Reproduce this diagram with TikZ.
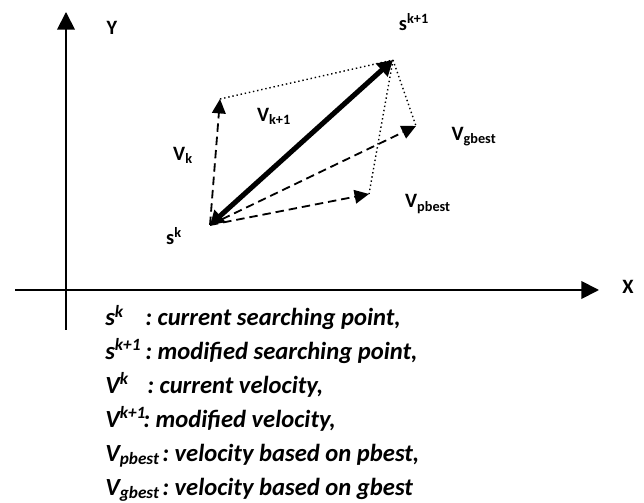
\documentclass[tikz,border=0pt]{standalone}
\usepackage{fontspec}
\setmainfont{Carlito}
\usetikzlibrary{arrows.meta}

\begin{document}
\begin{tikzpicture}[x=0.025cm, y=0.025cm,
  axis/.style={line width=1.3pt, -{Triangle[length=4.4mm, width=4.4mm]}},
  vec/.style={line width=1.3pt, dash pattern=on 6pt off 3.5pt, -{Triangle[length=3.6mm, width=3.4mm]}},
  res/.style={line width=3.6pt, {Triangle[length=3.4mm, width=4mm]}-{Triangle[length=3.8mm, width=4.2mm]}},
  aux/.style={line width=1pt, dotted},
  lbl/.style={font=\fontsize{14.5}{16}\selectfont\bfseries, inner sep=0pt},
  leg/.style={font=\fontsize{17.5}{19}\selectfont\bfseries\itshape, inner sep=0pt, anchor=base west}]
\useasboundingbox (0,0) rectangle (644,-503);

% axes
\coordinate (xstart) at (15,-290);
\coordinate (xend)   at (599,-290);
\coordinate (ystart) at (66,-330);
\coordinate (yend)   at (66,-12);
\draw[axis] (xstart) -- (xend);
\draw[axis] (ystart) -- (yend);
\node[lbl] (xlab) at (628,-287) {X};
\node[lbl] (ylab) at (112,-28) {Y};

% points and velocity vectors
\coordinate (sk)  at (210,-225);
\coordinate (sk1) at (393,-60);
\coordinate (vk)  at (220,-99);
\coordinate (vp)  at (369,-194);
\coordinate (vg)  at (416,-126);

\draw[aux] (vk) -- (sk1);
\draw[aux] (sk1) -- (vp);
\draw[aux] (sk1) -- (vg);
\draw[vec] (sk) -- (vk);
\draw[vec] (sk) -- (vp);
\draw[vec] (sk) -- (vg);
\draw[res] (sk) -- (sk1);

\node[lbl] (sklab)  at (174,-236) {s\textsuperscript{k}};
\node[lbl] (sk1lab) at (414,-22)  {s\textsuperscript{k+1}};
\node[lbl] (vklab)  at (183,-155) {V\textsubscript{k}};
\node[lbl] (vk1lab) at (274,-116) {V\textsubscript{k+1}};
\node[lbl] (vglab)  at (474,-137) {V\textsubscript{gbest}};
\node[lbl] (vplab)  at (428,-204) {V\textsubscript{pbest}};

% legend
\foreach \i/\sym/\cx/\txt in {%
  1/{s\textsuperscript{k}}/145/{current searching point,},
  2/{s\textsuperscript{k+1}}/145/{modified searching point,},
  3/{V\textsuperscript{k}}/147/{current velocity,},
  4/{V\textsuperscript{k+1}}/143/{modified velocity,},
  5/{V\textsubscript{pbest}}/162/{velocity based on pbest,},
  6/{V\textsubscript{gbest}}/162/{velocity based on gbest}}{
  \node[leg] (sym\i) at (105,{-326-33.8*(\i-1)}) {\sym};
  \node[leg] (txt\i) at (\cx,{-326-33.8*(\i-1)}) {:~\txt};
}
\end{tikzpicture}
\end{document}
